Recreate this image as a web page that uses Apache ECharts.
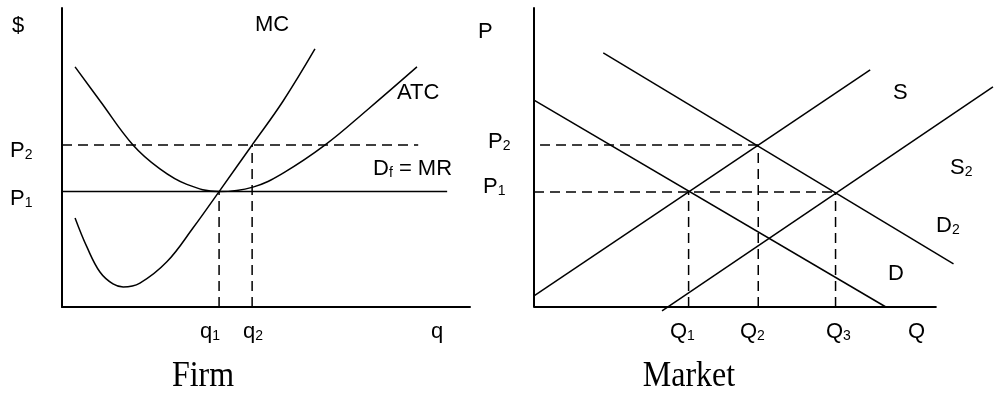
<html>

<head>
    <meta charset="utf-8">
    <title>Firm and Market</title>
    <script src="https://cdn.jsdelivr.net/npm/echarts@6/dist/echarts.min.js"></script>
</head>

<body style="margin:0;background:#fff">
    <div id="main" style="width:997px;height:399px;"></div>
    <script type="text/javascript">
        // Firm panel, both axes run 0..100
        var mcCurve = [[3.2, 29.8], [6.1, 20.1], [9.3, 11.7], [12.5, 7.7], [15.0, 6.7], [19.1, 8.0], [25.7, 15.1],
            [32.1, 26.4], [38.5, 38.6], [46.6, 54.2], [54.2, 68.9], [62.0, 86.3]];
        var atcCurve = [[3.2, 80.3], [9.3, 69.0], [17.4, 54.2], [24.0, 46.2], [30.6, 41.0], [38.5, 38.6],
            [46.8, 40.1], [54.2, 44.8], [64.5, 54.2], [74.8, 65.9], [87.0, 80.3]];
        var firmP = [38.6, 54.2];        // P1, P2
        var firmQ = [38.5, 46.6];        // q1, q2
        var firmLineEnd = [94.4, 87.3];  // where the P1 (Df = MR) and P2 lines stop

        // Market panel, x axis drawn 0..100 (lines run on past it), y 0..100
        var demandD = [[0, 69.2], [87.4, 0]];
        var demandD2 = [[17.2, 85.0], [104.2, 14.4]];
        var supplyS = [[0, 3.7], [83.5, 79.3]];
        var supplyS2 = [[31.8, -1.3], [114.0, 73.6]];
        var mktP = [38.5, 54.2];         // P1, P2
        var mktQ = [38.4, 55.7, 74.9];   // Q1, Q2, Q3

        // label texts
        var firmYLabels = [['P', '1'], ['P', '2']];
        var firmXLabels = [['q', '1'], ['q', '2'], ['q', '']];
        var mktYLabels = [['P', '1'], ['P', '2']];
        var mktXLabels = [['Q', '1'], ['Q', '2'], ['Q', '3'], ['Q', '']];

        var myChart = echarts.init(document.getElementById('main'));

        function curve(data, xi, smooth) {
            return {
                type: 'line', data: data, xAxisIndex: xi, yAxisIndex: xi,
                symbol: 'none', smooth: smooth || false, clip: false, silent: true,
                lineStyle: { color: '#000', width: 1.5 }
            };
        }
        function dashed(data, xi) {
            var s = curve(data, xi);
            s.lineStyle = { color: '#000', width: 1.5, type: [10, 6] };
            return s;
        }

        function axis(grid, max, showLine) {
            return {
                type: 'value', gridIndex: grid, min: 0, max: max,
                axisLine: { show: showLine, onZero: false, lineStyle: { color: '#000', width: 2 } },
                axisTick: { show: false }, axisLabel: { show: false }, splitLine: { show: false }
            };
        }

        var sans = 'Liberation Sans, Arial, sans-serif';
        function label(parts, x, y) {
            var txt = '{m|' + parts[0] + '}' + (parts[1] ? '{s|' + parts[1] + '}' : '') +
                (parts[2] ? '{m|' + parts[2] + '}' : '');
            return {
                type: 'text', x: x, y: y, silent: true,
                style: {
                    text: txt, fill: '#000', align: 'left', verticalAlign: 'middle',
                    textAlign: 'left', textVerticalAlign: 'middle',
                    rich: {
                        m: { fontSize: 22, fontFamily: sans, color: '#000', lineHeight: 22 },
                        s: { fontSize: 14, fontFamily: sans, color: '#000', lineHeight: 10, verticalAlign: 'bottom' }
                    }
                }
            };
        }
        function title(txt, cx, y) {
            return {
                type: 'text', x: cx, y: y, silent: true, scaleY: 1.1,
                style: {
                    text: txt, fill: '#000', font: '32px "Liberation Serif", "Times New Roman", serif',
                    align: 'center', verticalAlign: 'middle', textAlign: 'center', textVerticalAlign: 'middle'
                }
            };
        }

        var option = {
            animation: false,
            backgroundColor: '#fff',
            grid: [
                { left: 62, top: 8, width: 408, height: 299 },
                { left: 534, top: 8, width: 467, height: 299 }
            ],
            xAxis: [axis(0, 100, true), axis(1, 115, false)],
            yAxis: [axis(0, 100, true), axis(1, 100, true)],
            series: [
                curve(mcCurve, 0, 0.4),
                curve(atcCurve, 0, 0.4),
                curve([[0, firmP[0]], [firmLineEnd[0], firmP[0]]], 0),
                dashed([[0, firmP[1]], [firmLineEnd[1], firmP[1]]], 0),
                dashed([[firmQ[0], 0], [firmQ[0], firmP[0]]], 0),
                dashed([[firmQ[1], 0], [firmQ[1], firmP[1]]], 0),

                // market x axis, stops at 100
                {
                    type: 'line', data: [[0, 0], [100, 0]], xAxisIndex: 1, yAxisIndex: 1, symbol: 'none',
                    clip: false, silent: true, lineStyle: { color: '#000', width: 2 }
                },
                curve(demandD, 1),
                curve(demandD2, 1),
                curve(supplyS, 1),
                curve(supplyS2, 1),
                dashed([[1.5, mktP[1]], [mktQ[1], mktP[1]]], 1),
                dashed([[0, mktP[0]], [mktQ[2], mktP[0]]], 1),
                dashed([[mktQ[0], 0], [mktQ[0], mktP[0]]], 1),
                dashed([[mktQ[1], 0], [mktQ[1], mktP[1]]], 1),
                dashed([[mktQ[2], 0], [mktQ[2], mktP[0]]], 1)
            ],
            graphic: [
                label(['$'], 12, 26),
                label(['MC'], 255, 25),
                label(['ATC'], 397, 93),
                label(['D', 'f', ' = MR'], 373, 169),
                label(firmYLabels[1], 10, 151),
                label(firmYLabels[0], 10, 199),
                label(firmXLabels[0], 200, 332),
                label(firmXLabels[1], 243, 332),
                label(firmXLabels[2], 431, 332),

                label(['P'], 478, 32),
                label(mktYLabels[1], 488, 142),
                label(mktYLabels[0], 483, 187),
                label(['S'], 893, 93),
                label(['S', '2'], 950, 168),
                label(['D', '2'], 936, 226),
                label(['D'], 888, 274),
                label(mktXLabels[0], 670, 332),
                label(mktXLabels[1], 740, 332),
                label(mktXLabels[2], 826, 332),
                label(mktXLabels[3], 908, 332),

                title('Firm', 203, 377),
                title('Market', 689, 377)
            ]
        };
        myChart.setOption(option);
    </script>
</body>

</html>
